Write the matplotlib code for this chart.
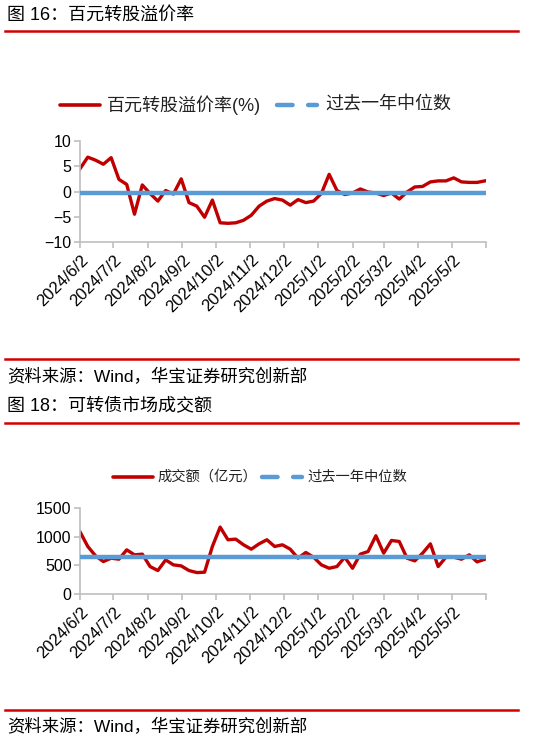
import matplotlib
matplotlib.use('Agg')
import matplotlib.pyplot as plt
import matplotlib.transforms as mtransforms
from matplotlib.lines import Line2D
import pandas as pd

plt.rcParams['font.family'] = ['Liberation Sans', 'Noto Sans CJK SC', 'DejaVu Sans']

W, H = 534, 742

# weekly observations, 2024/6/2 .. 2025/6/1
dates = pd.date_range('2024-06-02', periods=53, freq='7D')

premium = [4.5, 6.8, 6.2, 5.4, 6.7, 2.4, 1.4, -4.5, 1.3, -0.4,
           -1.9, 0.2, -0.5, 2.5, -2.2, -2.9, -5.1, -1.7, -6.2, -6.3,
           -6.2, -5.7, -4.7, -2.9, -1.9, -1.4, -1.7, -2.7, -1.6, -2.2,
           -1.9, -0.4, 3.4, 0.2, -0.6, -0.3, 0.5, -0.1, -0.3, -0.8,
           -0.3, -1.5, -0.1, 0.9, 1.0, 1.9, 2.1, 2.1, 2.7, 1.9,
           1.8, 1.8, 2.1]
premium_median = -0.2

turnover = [1085, 829, 665, 566, 625, 607, 770, 683, 695, 479,
            409, 595, 508, 490, 409, 374, 380, 829, 1167, 946,
            957, 858, 782, 875, 946, 829, 858, 782, 625, 724,
            642, 508, 449, 479, 642, 449, 695, 741, 1016, 712,
            934, 916, 625, 578, 712, 875, 479, 642, 642, 607,
            683, 560, 607]
turnover_median = 654

tick_dates = pd.date_range('2024-06-01', periods=13, freq='MS') + pd.Timedelta(days=1)
tick_labels = ['2024/6/2', '2024/7/2', '2024/8/2', '2024/9/2', '2024/10/2', '2024/11/2',
               '2024/12/2', '2025/1/2', '2025/2/2', '2025/3/2', '2025/4/2', '2025/5/2', '']

RED = '#C00000'
BLUE = '#5B9BD5'
RULE = '#D40000'
GREY = '#BFBFBF'


def fx(px):
    return px / W


def fy(py):
    return 1 - py / H


fig = plt.figure(figsize=(W / 100, H / 100), dpi=100)


def rule(py):
    fig.add_artist(Line2D([fx(5), fx(518)], [fy(py), fy(py)], color=RULE, lw=1.8))


def legend(py, x_red, x_txt1, txt1, x_blue, x_txt2, fs):
    fig.add_artist(Line2D([fx(x_red), fx(x_red + 40)], [fy(py), fy(py)],
                          color=RED, lw=2.6, solid_capstyle='round'))
    fig.text(fx(x_txt1), fy(py), txt1, fontsize=fs, va='center', ha='left', color='#222222')
    fig.add_artist(Line2D([fx(x_blue), fx(x_blue + 40)], [fy(py), fy(py)],
                          color=BLUE, lw=3.2, dashes=(3.5, 3.5), dash_capstyle='round'))
    fig.text(fx(x_txt2), fy(py), '过去一年中位数', fontsize=fs, va='center', ha='left', color='#222222')


def style(ax):
    for s in ['top', 'right']:
        ax.spines[s].set_visible(False)
    for s in ['left', 'bottom']:
        ax.spines[s].set_color(GREY)
        ax.spines[s].set_linewidth(1.2)
    ax.tick_params(axis='both', colors=GREY, length=4, width=1.2, labelcolor='black', labelsize=11.5)
    ax.tick_params(axis='y', pad=2)
    ax.tick_params(axis='x', pad=7)
    ax.set_xlim(dates[0], tick_dates[-1])
    ax.set_xticks(tick_dates)
    ax.set_xticklabels(tick_labels, rotation=45, ha='right', va='center',
                       rotation_mode='anchor', fontsize=12)
    shift = mtransforms.ScaledTranslation(6 / 100, 0, fig.dpi_scale_trans)
    for lbl in ax.get_xticklabels():
        lbl.set_transform(lbl.get_transform() + shift)


# ── figure 16 ────────────────────────────────────────────────
fig.text(fx(7), fy(15), '图 16：百元转股溢价率', fontsize=13, va='center', ha='left')
rule(31)
legend(105, 60, 107, '百元转股溢价率(%)', 277, 325, 13)

ax1 = fig.add_axes([fx(80), fy(242), fx(486) - fx(80), fy(141) - fy(242)])
ax1.plot(dates, [premium_median] * len(dates), color=BLUE, lw=3.2, zorder=3)
ax1.plot(dates, premium, color=RED, lw=2.4, zorder=2)
ax1.set_ylim(-10, 10)
ax1.set_yticks([-10, -5, 0, 5, 10])
style(ax1)

rule(359)
fig.text(fx(7), fy(377), '资料来源：Wind，华宝证券研究创新部', fontsize=12.5, va='center', ha='left')

# ── figure 18 ────────────────────────────────────────────────
fig.text(fx(7), fy(407), '图 18：可转债市场成交额', fontsize=13, va='center', ha='left')
rule(423)
legend(477, 113, 157, '成交额（亿元）', 262, 307, 10.3)

ax2 = fig.add_axes([fx(80), fy(594), fx(486) - fx(80), fy(508) - fy(594)])
ax2.plot(dates, [turnover_median] * len(dates), color=BLUE, lw=3.2, zorder=3)
ax2.plot(dates, turnover, color=RED, lw=2.4, zorder=2)
ax2.set_ylim(0, 1500)
ax2.set_yticks([0, 500, 1000, 1500])
style(ax2)

rule(710)
fig.text(fx(7), fy(727), '资料来源：Wind，华宝证券研究创新部', fontsize=12.5, va='center', ha='left')

fig.savefig('out.png', dpi=100)
